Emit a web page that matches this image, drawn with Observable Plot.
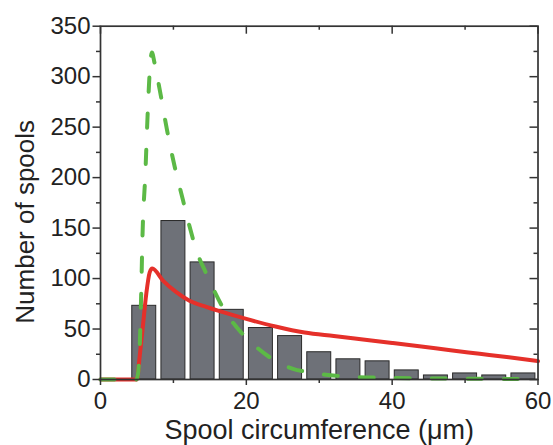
<!DOCTYPE html>
<html>
<head>
<meta charset="utf-8">
<script src="https://cdn.jsdelivr.net/npm/d3@7"></script>
<script src="https://cdn.jsdelivr.net/npm/@observablehq/plot@0.6"></script>
<style>
  html, body { margin: 0; padding: 0; background: #fff; }
  svg { display: block; }
</style>
</head>
<body>
<div id="chart"></div>
<script>
// Histogram: bin start (µm), bin width 4 µm, counts
const binStart = [4, 8, 12, 16, 20, 24, 28, 32, 36, 40, 44, 48, 52, 56];
const binWidth = 4;
const counts   = [73, 157, 116, 69, 51, 43, 27, 20, 18, 9, 4, 6, 4, 6];

// Red solid fit curve
const redX = [0, 2.3, 5.0, 5.36, 5.8, 6.28, 6.74, 7.1, 8.57, 10.4, 12.2, 14.5, 16.8, 20, 24, 28, 32, 36, 40, 44, 48, 52, 56, 60];
const redY = [0, 0, 0, 22, 52, 85, 106, 110, 98, 86.5, 78, 72, 66.7, 60, 52.5, 46.5, 43, 39.6, 36.2, 32.7, 29, 25.5, 22, 18.2];

// Green dashed fit curve
const greenX = [0, 4.9, 5.13, 5.36, 5.59, 5.75, 6.15, 6.49, 6.86, 7.05, 7.4, 8.1, 9.1, 10.2, 11.3, 12.2, 13.15, 14.5, 15.45, 17.3, 18.65, 21.4, 23.2, 26.4, 28.7, 31.9, 35, 40, 45, 50, 55, 60];
const greenY = [0, 0, 5, 29, 88, 140, 204, 267, 316, 324, 314, 288, 248, 210, 178, 152, 128, 105, 90, 65, 52, 32, 22, 10.6, 7, 4, 2.5, 1.5, 1, 0.8, 0.6, 0.5];

// Ticks
const xMajor = [0, 20, 40, 60];
const xMinor = [10, 30, 50];
const yMajor = [0, 50, 100, 150, 200, 250, 300, 350];
const yMinor = [25, 75, 125, 175, 225, 275, 325];

const xLabel = "Spool circumference (μm)";
const yLabel = "Number of spools";

const bars = binStart.map((s, i) => ({x1: s, x2: s + binWidth, y: counts[i]}));
const red = redX.map((x, i) => ({x, y: redY[i]}));
const green = greenX.map((x, i) => ({x, y: greenY[i]}));

const W = 553, H = 445;
const mL = 100, mR = 15.5, mT = 25.7, mB = 66;
const fw = W - mL - mR, fh = H - mT - mB;
const axisColor = "#333";

const chart = Plot.plot({
  width: W,
  height: H,
  marginLeft: mL,
  marginRight: mR,
  marginTop: mT,
  marginBottom: mB,
  style: {fontFamily: "'Liberation Sans', Arial, Helvetica, sans-serif", color: "#222", background: "#fff"},
  x: {domain: [0, 60]},
  y: {domain: [0, 350]},
  marks: [
    Plot.rectY(bars, {x1: "x1", x2: "x2", y: "y", fill: "#6e7178", stroke: "#2a2a2a", strokeWidth: 1, insetLeft: 2.6, insetRight: 2.6}),
    Plot.line(red, {x: "x", y: "y", stroke: "#e5302a", strokeWidth: 4, curve: "monotone-x"}),
    Plot.line(green, {x: "x", y: "y", stroke: "#5cb946", strokeWidth: 4, curve: "monotone-x", strokeDasharray: "14,22", strokeLinecap: "round"}),
    Plot.frame({stroke: axisColor, strokeWidth: 1.7}),
    // left axis (outward)
    Plot.axisY({ticks: yMajor, tickSize: 7.5, tickPadding: 2.5, fontSize: 24, label: null, stroke: axisColor, strokeWidth: 1.5}),
    Plot.axisY({ticks: yMinor, tickSize: 4, text: null, label: null, stroke: axisColor, strokeWidth: 1.5}),
    // bottom axis (outward)
    Plot.axisX({ticks: xMajor, tickSize: 6, tickPadding: 6.5, fontSize: 24, label: null, stroke: axisColor, strokeWidth: 1.5}),
    Plot.axisX({ticks: xMinor, tickSize: 4, text: null, label: null, stroke: axisColor, strokeWidth: 1.5}),
    // top ticks (inward)
    Plot.ruleX(xMajor, {x: d => d, insetBottom: fh - 8, stroke: axisColor, strokeWidth: 1.5}),
    Plot.ruleX(xMinor, {x: d => d, insetBottom: fh - 4, stroke: axisColor, strokeWidth: 1.5}),
    // right ticks (inward)
    Plot.ruleY(yMajor, {y: d => d, insetLeft: fw - 8, stroke: axisColor, strokeWidth: 1.5}),
    Plot.ruleY(yMinor, {y: d => d, insetLeft: fw - 4, stroke: axisColor, strokeWidth: 1.5}),
    // axis titles
    Plot.text([xLabel], {frameAnchor: "bottom", dy: 59.5, lineAnchor: "bottom", textAnchor: "middle", fontSize: 27, fill: "#222"}),
    Plot.text([yLabel], {frameAnchor: "left", dx: -67, dy: 19, rotate: -90, lineAnchor: "bottom", textAnchor: "middle", fontSize: 26, fill: "#222"})
  ]
});

document.getElementById("chart").appendChild(chart);
</script>
</body>
</html>
